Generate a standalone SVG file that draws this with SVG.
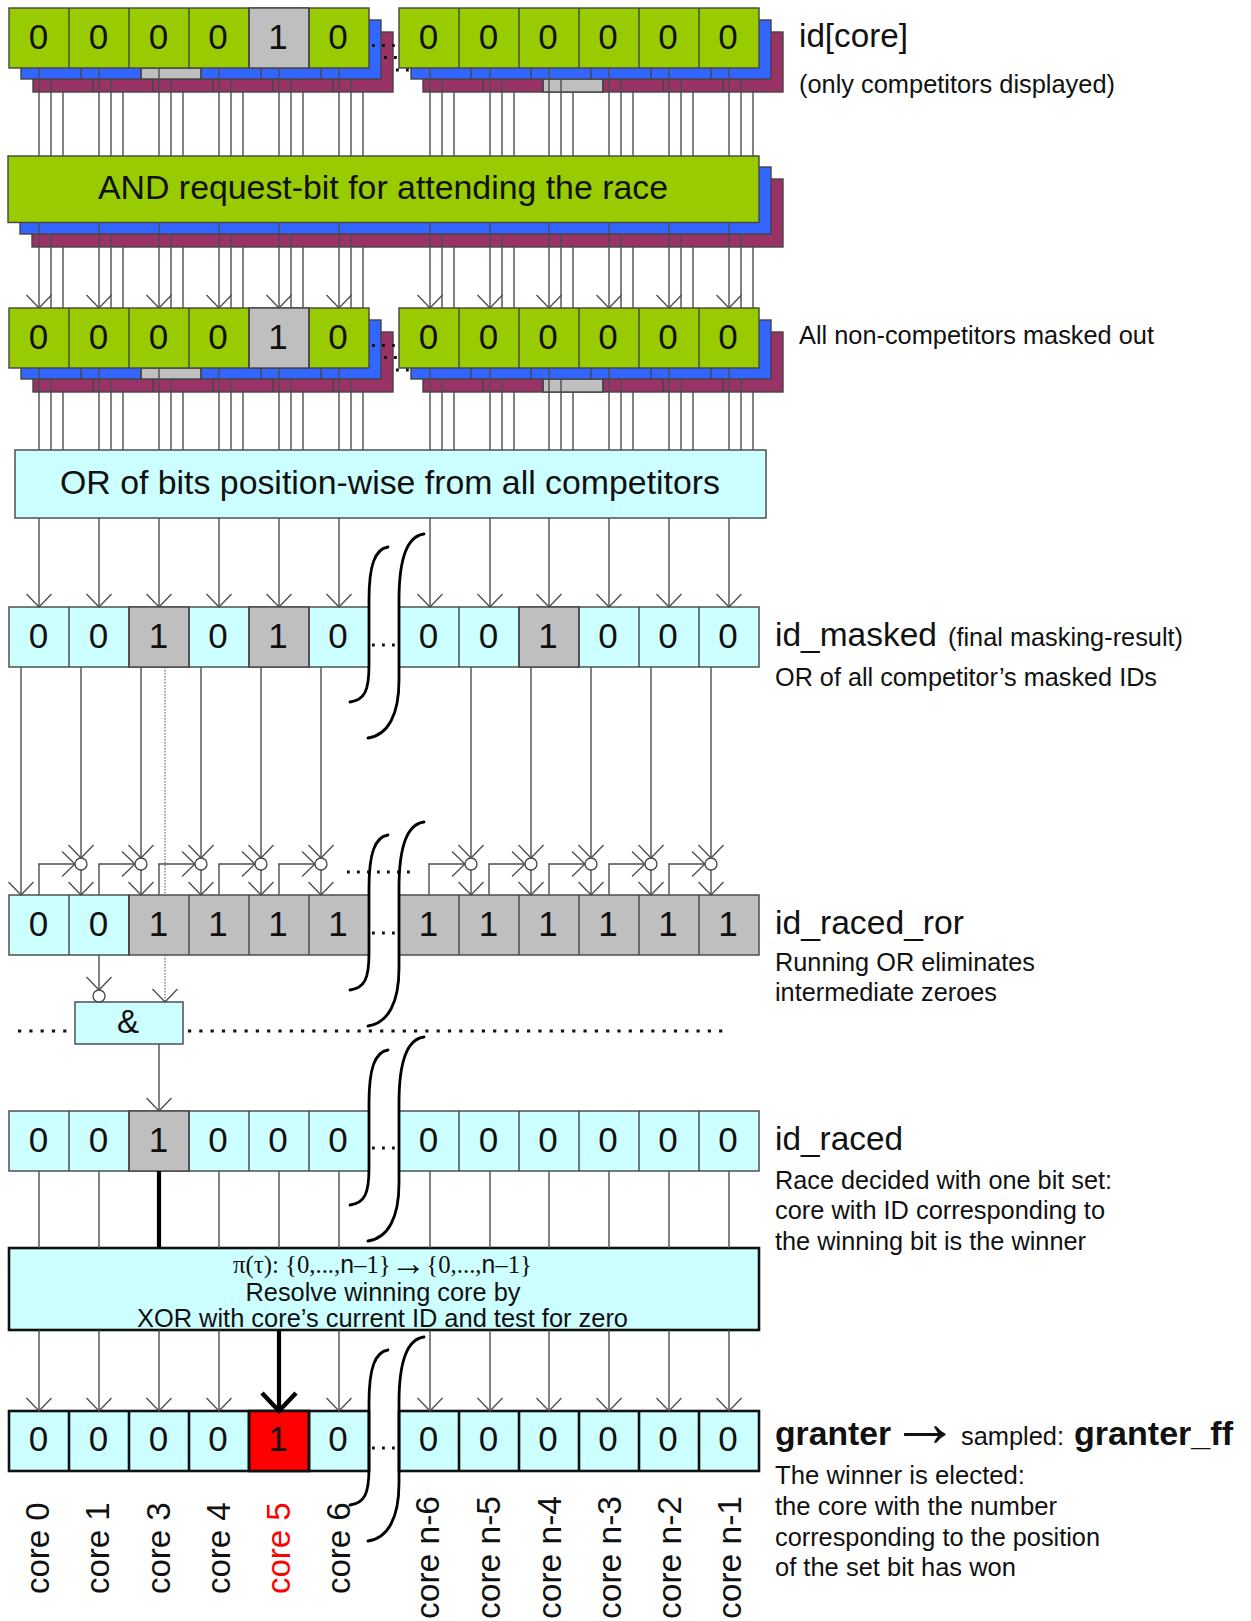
<svg xmlns="http://www.w3.org/2000/svg" xmlns:xlink="http://www.w3.org/1999/xlink" width="1251" height="1621" viewBox="0 0 1251 1621">
<style>
text{font-family:"Liberation Sans",Arial,sans-serif;fill:#111}
.d{font-size:35px;text-anchor:middle}
.h{font-size:33px}
.s{font-size:26px}
.b{font-weight:bold;font-size:33px}
.box{font-size:33px}
.c{font-size:33px}
.g{fill:#99cc00}.u{fill:#3366ff}.p{fill:#993366}.y{fill:#bfbfbf}.k{fill:#ccffff}.r{fill:#ff0000}
rect,.dv{stroke:#444;stroke-width:1.4}
.hv rect,.hvd{stroke:#111;stroke-width:2.6}
.w{fill:none;stroke:#4d4d4d;stroke-width:1.4}
.a{marker-end:url(#arr)}
.t{fill:none;stroke:#000;stroke-width:4.2}
.o{fill:#fff;stroke:#444;stroke-width:1.3}
.dots{fill:none;stroke:#111;stroke-width:2.8;stroke-dasharray:2.8 7.2}
.ld{fill:none;stroke:#111;stroke-width:3.2;stroke-dasharray:3.2 8.1}
.br{fill:none;stroke:#000;stroke-width:2.8;stroke-linecap:round}
</style>
<defs>
<marker id="arr" markerUnits="userSpaceOnUse" viewBox="-16 -16 32 32" refX="0" refY="0" markerWidth="32" markerHeight="32" orient="auto"><path d="M-13 -12.5L0 0L-13 12.5" fill="none" stroke="#4d4d4d" stroke-width="1.3"/></marker>
<marker id="arrT" markerUnits="userSpaceOnUse" viewBox="-24 -24 48 48" refX="0" refY="0" markerWidth="48" markerHeight="48" orient="auto"><path d="M-18 -17L0 0L-18 17" fill="none" stroke="#000" stroke-width="4.5"/></marker>
<g id="stack">
<rect class="p" x="33" y="32" width="360" height="60"/><rect class="p" x="423" y="32" width="360" height="60"/>
<rect class="y" x="543" y="79" width="60" height="13"/>
<path class="dv" d="M93 79V92M153 79V92M213 79V92M273 79V92M333 79V92M483 79V92M543 79V92M603 79V92M663 79V92M723 79V92"/>
<rect class="u" x="21" y="20" width="360" height="59"/><rect class="u" x="411" y="20" width="360" height="59"/>
<rect class="y" x="141" y="68" width="60" height="11"/>
<path class="dv" d="M81 68V79M141 68V79M201 68V79M261 68V79M321 68V79M471 68V79M531 68V79M591 68V79M651 68V79M711 68V79"/>
<rect class="g" x="9" y="8" width="360" height="60"/><rect class="g" x="399" y="8" width="360" height="60"/>
<rect class="y" x="249" y="8" width="60" height="60"/>
<path class="dv" d="M69 8V68M129 8V68M189 8V68M249 8V68M309 8V68M459 8V68M519 8V68M579 8V68M639 8V68M699 8V68"/>
</g>
<path id="cells" class="dv" d="M69 0V60M129 0V60M189 0V60M249 0V60M309 0V60M459 0V60M519 0V60M579 0V60M639 0V60M699 0V60"/>
<g id="brace"><path class="br" d="M388 547C375 549 369 565 369 600L369 665C369 690 365 700 350 702"/><path class="br" d="M424 534C408 536 399 555 399 600L399 680C399 715 388 735 368 738"/></g>
</defs>

<g id="id-core">
<use href="#stack"/>
<g class="d"><text x="38.5" y="49">0</text><text x="98.5" y="49">0</text><text x="158.5" y="49">0</text><text x="218" y="49">0</text><text x="278" y="49">1</text><text x="338" y="49">0</text><text x="428.5" y="49">0</text><text x="488.5" y="49">0</text><text x="548" y="49">0</text><text x="608" y="49">0</text><text x="668" y="49">0</text><text x="728" y="49">0</text></g>
<path class="dots" d="M372 45.5H396M384 57.5H398M396 70H409"/>
</g>
<g id="and-box">
<rect class="p" x="32" y="179" width="751" height="68"/><rect class="u" x="20" y="167" width="751" height="67"/><rect class="g" x="8" y="156" width="751" height="66.5"/>
<text class="box" x="98" y="199" textLength="570" lengthAdjust="spacingAndGlyphs">AND request-bit for attending the race</text>
</g>
<g id="id-masked-stack">
<use href="#stack" y="300"/>
<g class="d"><text x="38.5" y="349">0</text><text x="98.5" y="349">0</text><text x="158.5" y="349">0</text><text x="218" y="349">0</text><text x="278" y="349">1</text><text x="338" y="349">0</text><text x="428.5" y="349">0</text><text x="488.5" y="349">0</text><text x="548" y="349">0</text><text x="608" y="349">0</text><text x="668" y="349">0</text><text x="728" y="349">0</text></g>
<path class="dots" d="M372 345.5H396M384 357.5H398M396 370H409"/>
</g>
<g id="or-box">
<rect class="k" x="15" y="450" width="751" height="68"/>
<text class="box" x="60" y="494" textLength="660" lengthAdjust="spacingAndGlyphs">OR of bits position-wise from all competitors</text>
</g>
<g id="row-id-masked">
<rect class="k" x="9" y="607" width="360" height="60"/><rect class="k" x="399" y="607" width="360" height="60"/>
<rect class="y" x="129" y="607" width="60" height="60"/><rect class="y" x="249" y="607" width="60" height="60"/><rect class="y" x="519" y="607" width="60" height="60"/>
<use href="#cells" y="607"/>
<g class="d"><text x="38.5" y="648">0</text><text x="98.5" y="648">0</text><text x="158.5" y="648">1</text><text x="218" y="648">0</text><text x="278" y="648">1</text><text x="338" y="648">0</text><text x="428.5" y="648">0</text><text x="488.5" y="648">0</text><text x="548" y="648">1</text><text x="608" y="648">0</text><text x="668" y="648">0</text><text x="728" y="648">0</text></g>
<path class="dots" d="M372 645H396"/>
</g>
<g id="row-id-raced-ror">
<rect class="k" x="9" y="895" width="120" height="60"/><rect class="y" x="129" y="895" width="240" height="60"/><rect class="y" x="399" y="895" width="360" height="60"/>
<use href="#cells" y="895"/>
<g class="d"><text x="38.5" y="936">0</text><text x="98.5" y="936">0</text><text x="158.5" y="936">1</text><text x="218" y="936">1</text><text x="278" y="936">1</text><text x="338" y="936">1</text><text x="428.5" y="936">1</text><text x="488.5" y="936">1</text><text x="548" y="936">1</text><text x="608" y="936">1</text><text x="668" y="936">1</text><text x="728" y="936">1</text></g>
<path class="dots" d="M372 933H396M347 872H410"/>
</g>
<g id="and-gate">
<rect class="k" x="75" y="1002" width="108" height="42"/>
<text x="128" y="1033" font-size="33" text-anchor="middle">&amp;</text>
<circle class="o" cx="99" cy="996" r="6"/>
</g>
<path id="cut-line" class="ld" d="M18 1031H73M188 1031H726"/>
<g id="row-id-raced">
<rect class="k" x="9" y="1111" width="360" height="60"/><rect class="k" x="399" y="1111" width="360" height="60"/>
<rect class="y" x="129" y="1111" width="60" height="60"/>
<use href="#cells" y="1111"/>
<g class="d"><text x="38.5" y="1152">0</text><text x="98.5" y="1152">0</text><text x="158.5" y="1152">1</text><text x="218" y="1152">0</text><text x="278" y="1152">0</text><text x="338" y="1152">0</text><text x="428.5" y="1152">0</text><text x="488.5" y="1152">0</text><text x="548" y="1152">0</text><text x="608" y="1152">0</text><text x="668" y="1152">0</text><text x="728" y="1152">0</text></g>
<path class="dots" d="M372 1148H396"/>
</g>
<g id="resolve-box" class="hv">
<rect class="k" x="9" y="1248" width="750" height="82"/>
<text x="233" y="1273" font-size="25" style="font-family:'Liberation Serif',serif" textLength="299" lengthAdjust="spacingAndGlyphs">π(τ): {0,...,<tspan style="font-family:'Liberation Sans',sans-serif">n</tspan>–1}<tspan font-size="36" dy="2" style="font-family:'Liberation Sans',sans-serif">→</tspan><tspan dy="-2">{</tspan>0,...,<tspan style="font-family:'Liberation Sans',sans-serif">n</tspan>–1}</text>
<text x="245.5" y="1301" font-size="25" textLength="275" lengthAdjust="spacingAndGlyphs">Resolve winning core by</text>
<text x="137" y="1326.5" font-size="25" textLength="491" lengthAdjust="spacingAndGlyphs">XOR with core’s current ID and test for zero</text>
</g>
<g id="row-granter" class="hv">
<rect class="k" x="9" y="1411" width="360" height="60"/><rect class="k" x="399" y="1411" width="360" height="60"/>
<rect class="r" x="249" y="1411" width="60" height="60"/>
<path class="hvd" d="M69 1411V1471M129 1411V1471M189 1411V1471M249 1411V1471M309 1411V1471M459 1411V1471M519 1411V1471M579 1411V1471M639 1411V1471M699 1411V1471"/>
<g class="d"><text x="38.5" y="1451">0</text><text x="98.5" y="1451">0</text><text x="158.5" y="1451">0</text><text x="218" y="1451">0</text><text x="278" y="1451">1</text><text x="338" y="1451">0</text><text x="428.5" y="1451">0</text><text x="488.5" y="1451">0</text><text x="548" y="1451">0</text><text x="608" y="1451">0</text><text x="668" y="1451">0</text><text x="728" y="1451">0</text></g>
<path class="dots" d="M372 1448H396"/>
</g>

<g id="connectors">
<path class="w" d="M39 68V156M99 68V156M159 68V156M219 68V156M279 68V156M339 68V156M430 68V156M490 68V156M549 68V156M609 68V156M669 68V156M729 68V156M51 79V156M111 79V156M171 79V156M231 79V156M291 79V156M351 79V156M442 79V156M502 79V156M561 79V156M621 79V156M681 79V156M741 79V156M63 92V156M123 92V156M183 92V156M243 92V156M303 92V156M363 92V156M454 92V156M514 92V156M573 92V156M633 92V156M693 92V156M753 92V156"/>
<path class="w" d="M51 234V308M111 234V308M171 234V308M231 234V308M291 234V308M351 234V308M442 234V308M502 234V308M561 234V308M621 234V308M681 234V308M741 234V308M63 247V308M123 247V308M183 247V308M243 247V308M303 247V308M363 247V308M454 247V308M514 247V308M573 247V308M633 247V308M693 247V308M753 247V308"/>
<g class="w"><path class="a" d="M39 222V308"/><path class="a" d="M99 222V308"/><path class="a" d="M159 222V308"/><path class="a" d="M219 222V308"/><path class="a" d="M279 222V308"/><path class="a" d="M339 222V308"/><path class="a" d="M430 222V308"/><path class="a" d="M490 222V308"/><path class="a" d="M549 222V308"/><path class="a" d="M609 222V308"/><path class="a" d="M669 222V308"/><path class="a" d="M729 222V308"/></g>
<path class="w" d="M39 368V450M99 368V450M159 368V450M219 368V450M279 368V450M339 368V450M430 368V450M490 368V450M549 368V450M609 368V450M669 368V450M729 368V450M51 379V450M111 379V450M171 379V450M231 379V450M291 379V450M351 379V450M442 379V450M502 379V450M561 379V450M621 379V450M681 379V450M741 379V450M63 392V450M123 392V450M183 392V450M243 392V450M303 392V450M363 392V450M454 392V450M514 392V450M573 392V450M633 392V450M693 392V450M753 392V450"/>
<g class="w"><path class="a" d="M39 518V607"/><path class="a" d="M99 518V607"/><path class="a" d="M159 518V607"/><path class="a" d="M219 518V607"/><path class="a" d="M279 518V607"/><path class="a" d="M339 518V607"/><path class="a" d="M430 518V607"/><path class="a" d="M490 518V607"/><path class="a" d="M549 518V607"/><path class="a" d="M609 518V607"/><path class="a" d="M669 518V607"/><path class="a" d="M729 518V607"/></g>
<g class="w">
<path class="a" d="M21 667V895"/>
<path class="a" d="M81 667V858"/><path class="a" d="M141 667V858"/><path class="a" d="M201 667V858"/><path class="a" d="M261 667V858"/><path class="a" d="M321 667V858"/><path class="a" d="M471 667V858"/><path class="a" d="M531 667V858"/><path class="a" d="M591 667V858"/><path class="a" d="M651 667V858"/><path class="a" d="M711 667V858"/>
<path class="a" d="M81 870V895"/><path class="a" d="M141 870V895"/><path class="a" d="M201 870V895"/><path class="a" d="M261 870V895"/><path class="a" d="M321 870V895"/><path class="a" d="M471 870V895"/><path class="a" d="M531 870V895"/><path class="a" d="M591 870V895"/><path class="a" d="M651 870V895"/><path class="a" d="M711 870V895"/>
<path class="a" d="M39 895V864H75"/><path class="a" d="M99 895V864H135"/><path class="a" d="M159 895V864H195"/><path class="a" d="M219 895V864H255"/><path class="a" d="M279 895V864H315"/><path class="a" d="M429 895V864H465"/><path class="a" d="M489 895V864H525"/><path class="a" d="M549 895V864H585"/><path class="a" d="M609 895V864H645"/><path class="a" d="M669 895V864H705"/>
<path class="a" d="M99 955V990"/>
<path class="a" d="M159 1044V1111"/>
</g>
<path d="M165 667V895" fill="none" stroke="#666" stroke-width="1.2" stroke-dasharray="1.5 1.5"/>
<path d="M165 955V1002" fill="none" stroke="#666" stroke-width="1.2" stroke-dasharray="1.5 1.5" marker-end="url(#arr)"/>
<path class="w" d="M39 1171V1248M99 1171V1248M219 1171V1248M279 1171V1248M339 1171V1248M430 1171V1248M490 1171V1248M549 1171V1248M609 1171V1248M669 1171V1248M729 1171V1248"/>
<path class="t" d="M159 1171V1248"/>
<g class="w"><path class="a" d="M39 1330V1411"/><path class="a" d="M99 1330V1411"/><path class="a" d="M159 1330V1411"/><path class="a" d="M219 1330V1411"/><path class="a" d="M339 1330V1411"/><path class="a" d="M430 1330V1411"/><path class="a" d="M490 1330V1411"/><path class="a" d="M549 1330V1411"/><path class="a" d="M609 1330V1411"/><path class="a" d="M669 1330V1411"/><path class="a" d="M729 1330V1411"/></g>
<path class="t" marker-end="url(#arrT)" d="M279 1330V1411"/>
</g>
<g id="junctions">
<circle class="o" cx="81" cy="864" r="6"/><circle class="o" cx="141" cy="864" r="6"/><circle class="o" cx="201" cy="864" r="6"/><circle class="o" cx="261" cy="864" r="6"/><circle class="o" cx="321" cy="864" r="6"/><circle class="o" cx="471" cy="864" r="6"/><circle class="o" cx="531" cy="864" r="6"/><circle class="o" cx="591" cy="864" r="6"/><circle class="o" cx="651" cy="864" r="6"/><circle class="o" cx="711" cy="864" r="6"/>
</g>
<g id="braces">
<use href="#brace"/><use href="#brace" y="288"/><use href="#brace" y="503"/><use href="#brace" y="803"/>
</g>

<g id="core-labels" class="c">
<text transform="translate(49 1594) rotate(-90)">core 0</text>
<text transform="translate(109 1594) rotate(-90)">core 1</text>
<text transform="translate(170 1594) rotate(-90)">core 3</text>
<text transform="translate(230 1594) rotate(-90)">core 4</text>
<text transform="translate(290 1594) rotate(-90)" style="fill:#ff0000">core 5</text>
<text transform="translate(350 1594) rotate(-90)">core 6</text>
<text transform="translate(439 1619) rotate(-90)" textLength="123" lengthAdjust="spacingAndGlyphs">core n-6</text>
<text transform="translate(500 1619) rotate(-90)" textLength="123" lengthAdjust="spacingAndGlyphs">core n-5</text>
<text transform="translate(561 1619) rotate(-90)" textLength="123" lengthAdjust="spacingAndGlyphs">core n-4</text>
<text transform="translate(621 1619) rotate(-90)" textLength="123" lengthAdjust="spacingAndGlyphs">core n-3</text>
<text transform="translate(681 1619) rotate(-90)" textLength="123" lengthAdjust="spacingAndGlyphs">core n-2</text>
<text transform="translate(741 1619) rotate(-90)" textLength="123" lengthAdjust="spacingAndGlyphs">core n-1</text>
</g>
<g id="side-labels">
<text class="h" x="799" y="47" textLength="109" lengthAdjust="spacingAndGlyphs">id[core]</text>
<text class="s" x="799" y="93" textLength="316" lengthAdjust="spacingAndGlyphs">(only competitors displayed)</text>
<text class="s" x="799" y="344" textLength="355" lengthAdjust="spacingAndGlyphs">All non-competitors masked out</text>
<text class="h" x="775" y="646" textLength="162" lengthAdjust="spacingAndGlyphs">id_masked</text>
<text class="s" x="948" y="646" textLength="235" lengthAdjust="spacingAndGlyphs">(final masking-result)</text>
<text class="s" x="775" y="686" textLength="382" lengthAdjust="spacingAndGlyphs">OR of all competitor’s masked IDs</text>
<text class="h" x="775" y="934" textLength="189" lengthAdjust="spacingAndGlyphs">id_raced_ror</text>
<text class="s" x="775" y="971" textLength="260" lengthAdjust="spacingAndGlyphs">Running OR eliminates</text>
<text class="s" x="775" y="1001" textLength="222" lengthAdjust="spacingAndGlyphs">intermediate zeroes</text>
<text class="h" x="775" y="1150" textLength="128" lengthAdjust="spacingAndGlyphs">id_raced</text>
<text class="s" x="775" y="1189" textLength="337" lengthAdjust="spacingAndGlyphs">Race decided with one bit set:</text>
<text class="s" x="775" y="1219" textLength="330" lengthAdjust="spacingAndGlyphs">core with ID corresponding to</text>
<text class="s" x="775" y="1250" textLength="311" lengthAdjust="spacingAndGlyphs">the winning bit is the winner</text>
<text class="b" x="775" y="1445" textLength="116" lengthAdjust="spacingAndGlyphs">granter</text>
<text x="890" y="1446" font-size="70">→</text>
<text class="s" x="961" y="1445" textLength="103" lengthAdjust="spacingAndGlyphs">sampled:</text>
<text class="b" x="1074" y="1445" textLength="159" lengthAdjust="spacingAndGlyphs">granter_ff</text>
<text class="s" x="775" y="1484" textLength="250" lengthAdjust="spacingAndGlyphs">The winner is elected:</text>
<text class="s" x="775" y="1515" textLength="282" lengthAdjust="spacingAndGlyphs">the core with the number</text>
<text class="s" x="775" y="1546" textLength="325" lengthAdjust="spacingAndGlyphs">corresponding to the position</text>
<text class="s" x="775" y="1576" textLength="241" lengthAdjust="spacingAndGlyphs">of the set bit has won</text>
</g>
</svg>
